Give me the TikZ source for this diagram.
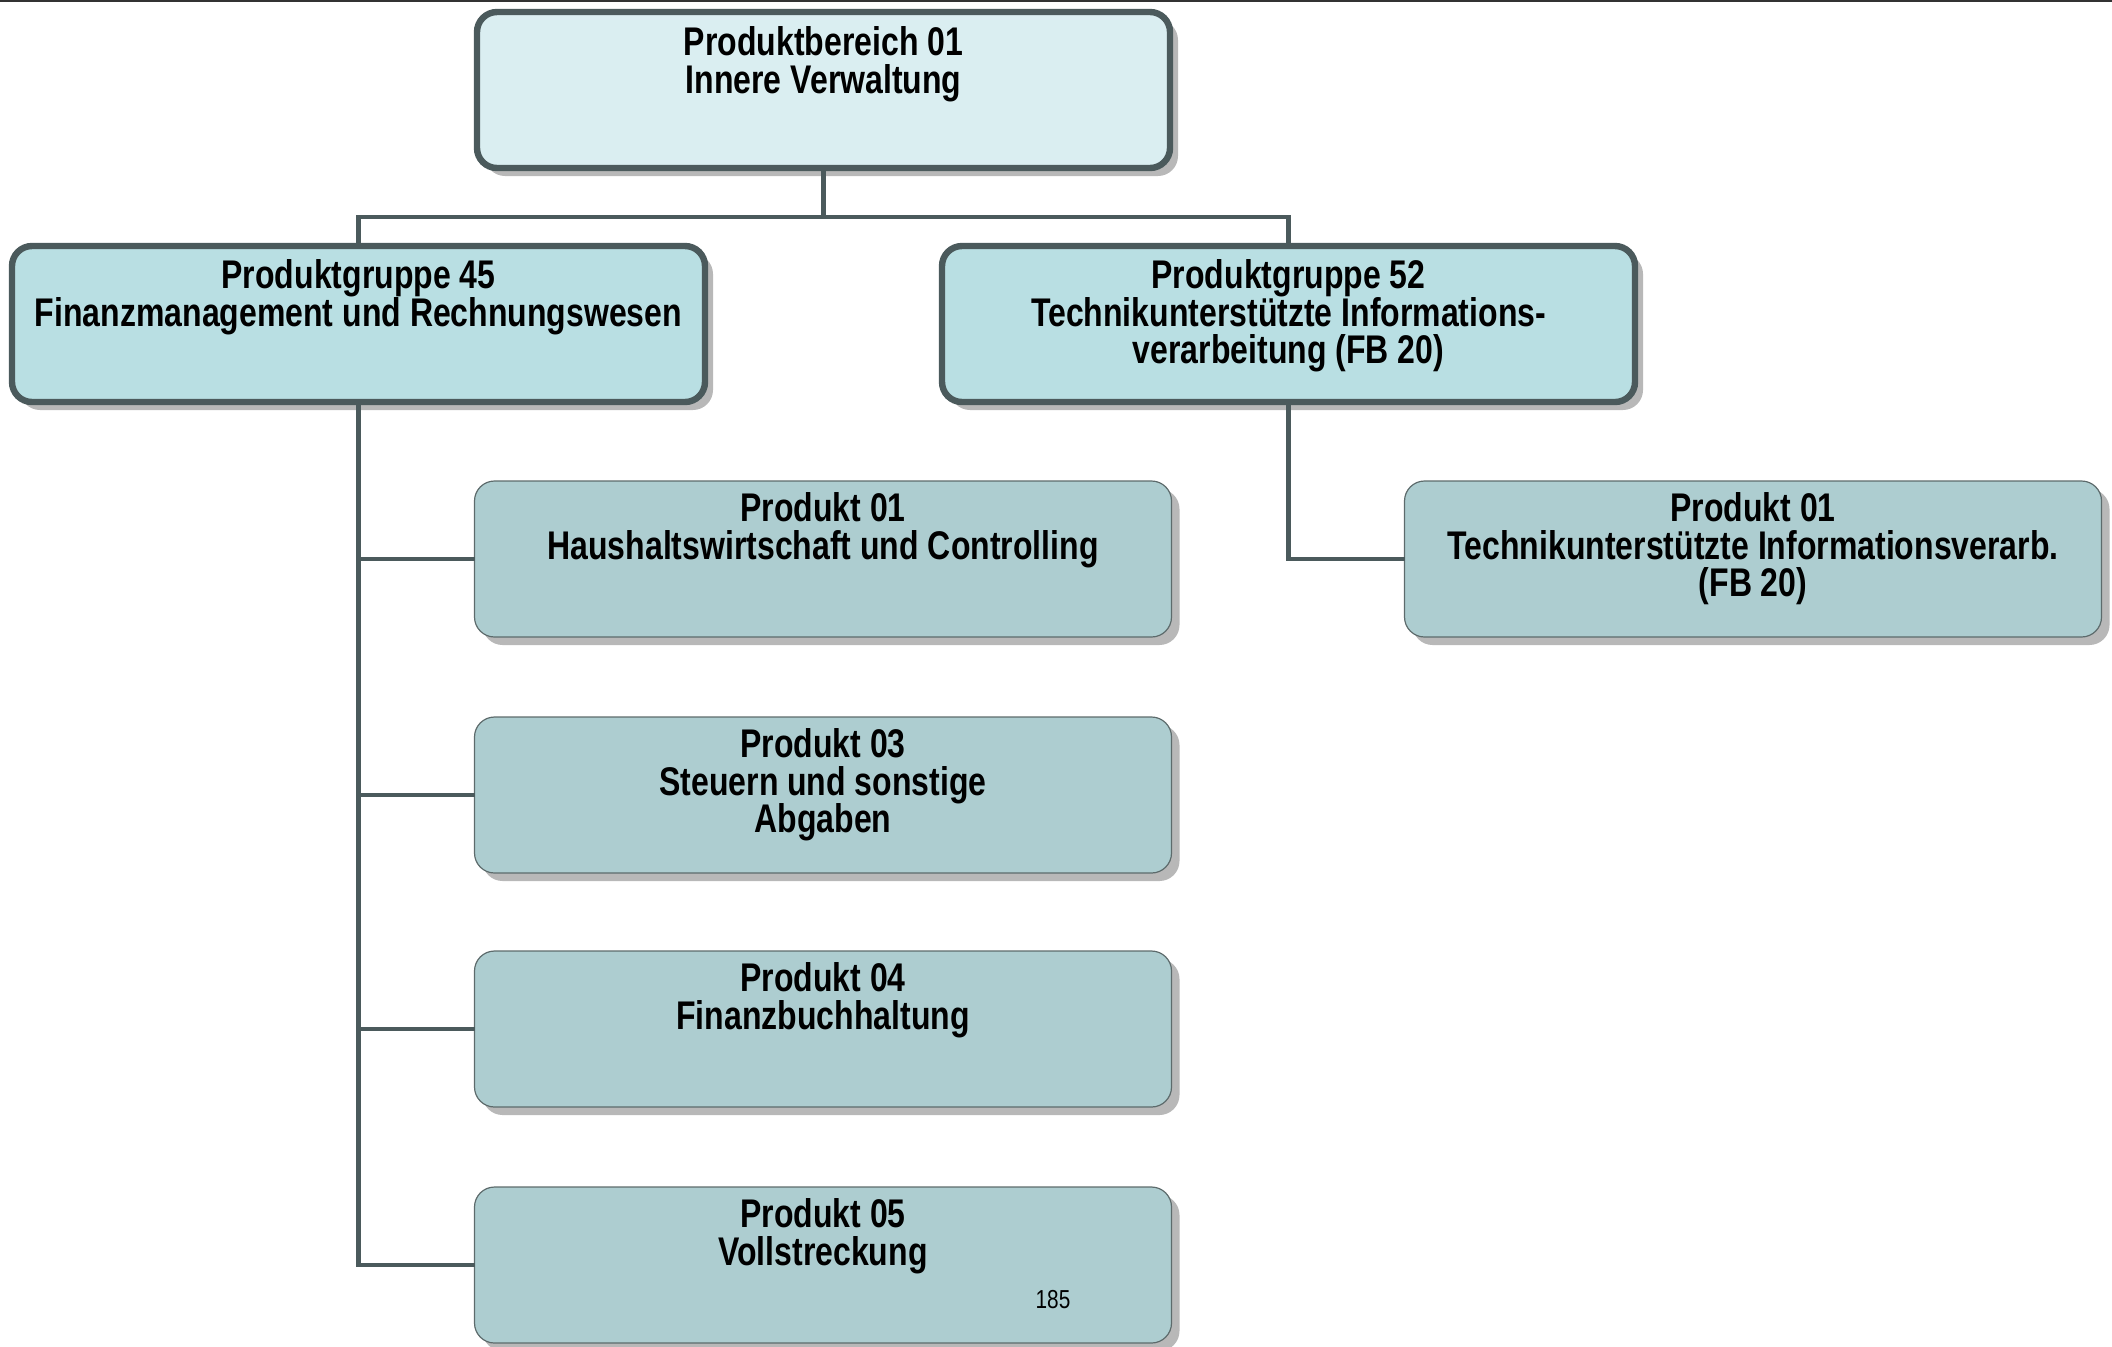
\documentclass[tikz,border=0pt]{standalone}
\usepackage{fontspec}
\newfontfamily\diafont[FakeStretch=0.8]{Liberation Sans}
\usetikzlibrary{shadows}
\definecolor{edge}{HTML}{4B5A5C}
\definecolor{topfill}{HTML}{DAEEF1}
\definecolor{grpfill}{HTML}{B9DFE3}
\definecolor{prodfill}{HTML}{ADCDD0}
\definecolor{shadowgray}{HTML}{B8B8B8}
\begin{document}
\begin{tikzpicture}[x=0.5pt,y=-0.5pt,
  shad/.style={drop shadow={shadow xshift=4pt, shadow yshift=-4pt, fill=shadowgray, opacity=1}},
  bigbox/.style={draw=edge, line width=3.2pt, rounded corners=10pt, inner sep=0pt, outer sep=0pt, shad, minimum width=346.5pt, minimum height=78pt},
  prodbox/.style={draw=edge!90, line width=0.6pt, fill=prodfill, rounded corners=10pt, inner sep=0pt, outer sep=0pt, shad, minimum width=348.5pt, minimum height=78pt},
  lbl/.style={anchor=north, align=center, inner sep=0pt, font=\diafont\bfseries\fontsize{20pt}{18.85pt}\selectfont},
  conn/.style={draw=edge, line width=2.2pt}
]
\useasboundingbox (0,0) rectangle (2112,1346);
\coordinate (ruleL) at (0,1);
\coordinate (ruleR) at (2112,1);
\draw[line width=1pt, black!80] (ruleL) -- (ruleR);

% boxes
\node[bigbox, fill=topfill] (top) at (823.5,90) {};
\node[bigbox, fill=grpfill] (g45) at (358.5,324) {};
\node[bigbox, fill=grpfill] (g52) at (1288.5,324) {};
\node[prodbox] (p01) at (823,559) {};
\node[prodbox] (p03) at (823,795) {};
\node[prodbox] (p04) at (823,1029) {};
\node[prodbox] (p05) at (823,1265) {};
\node[prodbox] (q01) at (1753,559) {};

% labels
\node[lbl] (ttop) at (823.5,26) {Produktbereich 01\\Innere Verwaltung};
\node[lbl] (tg45) at (358.5,259) {Produktgruppe 45\\Finanzmanagement und Rechnungswesen};
\node[lbl] (tg52) at (1288.5,259) {Produktgruppe 52\\Technikunterstützte Informations-\\verarbeitung (FB 20)};
\node[lbl] (tp01) at (823,492) {Produkt 01\\Haushaltswirtschaft und Controlling};
\node[lbl] (tp03) at (823,728) {Produkt 03\\Steuern und sonstige\\Abgaben};
\node[lbl] (tp04) at (823,962) {Produkt 04\\Finanzbuchhaltung};
\node[lbl] (tp05) at (823,1198) {Produkt 05\\Vollstreckung};
\node[lbl] (tq01) at (1753,492) {Produkt 01\\Technikunterstützte Informationsverarb.\\(FB 20)};
\node[inner sep=0pt, font=\diafont\fontsize{13pt}{15pt}\selectfont] (pg) at (1053,1300) {185};

% connectors
\coordinate (bus) at (823.5,217);
\draw[conn] (top.south) -- (bus);
\draw[conn] (g45.north) |- (bus) -| (g52.north);
\draw[conn] (g45.south) |- (p01.west);
\draw[conn] (g45.south) |- (p03.west);
\draw[conn] (g45.south) |- (p04.west);
\draw[conn] (g45.south) |- (p05.west);
\draw[conn] (g52.south) |- (q01.west);
\end{tikzpicture}
\end{document}
